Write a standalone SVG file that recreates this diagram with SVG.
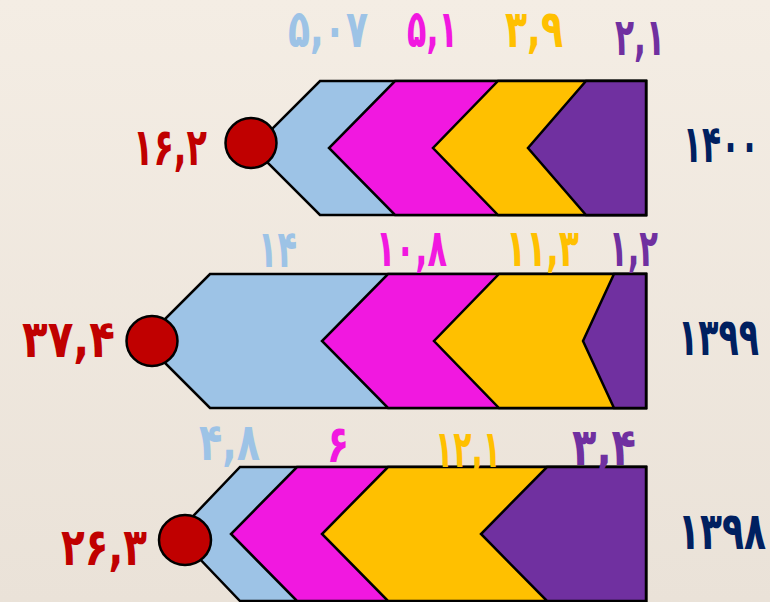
<svg xmlns="http://www.w3.org/2000/svg" width="770" height="602" viewBox="0 0 770 602">
<defs>
<linearGradient id="bg" x1="0" y1="0" x2="0" y2="1">
<stop offset="0" stop-color="#f4ede4"/>
<stop offset="1" stop-color="#eae2d8"/>
</linearGradient>
</defs>
<style>
.s{stroke:#000;stroke-width:2.5;stroke-linejoin:miter}
.b{fill:#9dc3e6}.m{fill:#f118e0}.y{fill:#ffc000}.p{fill:#7030a0}
.c{fill:#c00000;stroke:#000;stroke-width:2.5}
text{font-family:"DejaVu Sans","Noto Sans",sans-serif;font-weight:bold;direction:ltr;font-size:52px}
.tb{fill:#9dc3e6}.tm{fill:#f118e0}.ty{fill:#ffc000}.tp{fill:#7030a0}
.tr{fill:#c00000}.tn{fill:#002060;text-anchor:end}
</style>
<rect width="770" height="602" fill="url(#bg)"/>
<g id="row1400">
<polygon class="s b" points="320,81 646,81 646,215 320,215 253,148"/>
<polygon class="s m" points="395,81 646,81 646,215 395,215 329,148"/>
<polygon class="s y" points="498,81 646,81 646,215 498,215 433,148"/>
<polygon class="s p" points="586,81 646,81 646,215 586,215 528,148"/>
<ellipse class="c" cx="251" cy="143" rx="25.5" ry="25"/>
<text class="tb" x="288" y="47" textLength="80" lengthAdjust="spacingAndGlyphs">۵,۰۷</text>
<text class="tm" x="407" y="47" textLength="51" lengthAdjust="spacingAndGlyphs">۵,۱</text>
<text class="ty" x="505" y="47" textLength="58" lengthAdjust="spacingAndGlyphs">۳,۹</text>
<text class="tp" x="615" y="55" textLength="50" lengthAdjust="spacingAndGlyphs">۲,۱</text>
<text class="tr" x="133" y="165" textLength="74" lengthAdjust="spacingAndGlyphs">۱۶,۲</text>
<text class="tn" x="759" y="162" textLength="76" lengthAdjust="spacingAndGlyphs">۱۴۰۰</text>
</g>
<g id="row1399">
<polygon class="s b" points="210,274 646,274 646,408 210,408 143,341"/>
<polygon class="s m" points="388,274 646,274 646,408 388,408 322,341"/>
<polygon class="s y" points="499,274 646,274 646,408 499,408 434,341"/>
<polygon class="s p" points="614,274 646,274 646,408 614,408 583,341"/>
<ellipse class="c" cx="152" cy="341" rx="25.5" ry="25"/>
<text class="tb" x="258" y="267" textLength="39" lengthAdjust="spacingAndGlyphs">۱۴</text>
<text class="tm" x="376" y="266" textLength="71" lengthAdjust="spacingAndGlyphs">۱۰,۸</text>
<text class="ty" x="506" y="266" textLength="73" lengthAdjust="spacingAndGlyphs">۱۱,۳</text>
<text class="tp" x="609" y="266" textLength="49" lengthAdjust="spacingAndGlyphs">۱,۲</text>
<text class="tr" x="22" y="357" textLength="93" lengthAdjust="spacingAndGlyphs">۳۷,۴</text>
<text class="tn" x="759" y="355" textLength="81" lengthAdjust="spacingAndGlyphs">۱۳۹۹</text>
</g>
<g id="row1398">
<polygon class="s b" points="240,467 646,467 646,601 240,601 176,534"/>
<polygon class="s m" points="297,467 646,467 646,601 297,601 231,534"/>
<polygon class="s y" points="388,467 646,467 646,601 388,601 322,534"/>
<polygon class="s p" points="547,467 646,467 646,601 547,601 481,534"/>
<ellipse class="c" cx="185" cy="540" rx="26" ry="25"/>
<text class="tb" x="199" y="460" textLength="61" lengthAdjust="spacingAndGlyphs">۴,۸</text>
<text class="tm" x="327" y="462" textLength="22" lengthAdjust="spacingAndGlyphs">۶</text>
<text class="ty" x="435" y="467" textLength="66" lengthAdjust="spacingAndGlyphs">۱۲,۱</text>
<text class="tp" x="572" y="465" textLength="64" lengthAdjust="spacingAndGlyphs">۳,۴</text>
<text class="tr" x="61" y="565" textLength="86" lengthAdjust="spacingAndGlyphs">۲۶,۳</text>
<text class="tn" x="766" y="549" textLength="88" lengthAdjust="spacingAndGlyphs">۱۳۹۸</text>
</g>
</svg>
